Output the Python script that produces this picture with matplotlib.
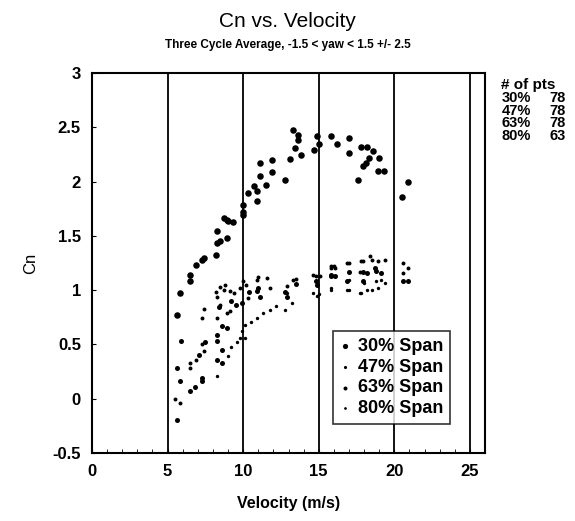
import matplotlib
matplotlib.use("Agg")
import matplotlib.pyplot as plt
from matplotlib.ticker import MultipleLocator

plt.rcParams['font.family'] = ['Liberation Sans', 'DejaVu Sans']

# 30% span
x30 = [5.6, 5.8, 6.5, 6.5, 6.9, 7.3, 7.4, 8.2, 8.3, 8.3, 8.5, 8.7, 8.9, 8.9, 9.3, 9.0,
       10.0, 10.0, 10.0, 10.3, 10.7, 10.9, 10.9, 11.1, 11.1, 11.5, 11.9, 11.9, 12.8, 13.1,
       13.3, 13.6, 13.6, 13.4, 13.8, 14.7, 14.9, 15.0, 15.8, 16.2, 17.0, 17.0, 17.8, 18.2,
       18.6, 18.3, 17.9, 18.1, 19.0, 18.9, 19.3, 17.6, 20.9, 20.5]
y30 = [0.77, 0.97, 1.08, 1.14, 1.23, 1.28, 1.30, 1.32, 1.43, 1.54, 1.45, 1.66, 1.65, 1.48, 1.63, 1.64,
       1.78, 1.69, 1.72, 1.89, 1.96, 1.91, 1.82, 2.17, 2.05, 1.97, 2.20, 2.09, 2.01, 2.21,
       2.47, 2.43, 2.38, 2.31, 2.24, 2.29, 2.42, 2.35, 2.42, 2.35, 2.40, 2.26, 2.32, 2.32,
       2.28, 2.22, 2.14, 2.17, 2.22, 2.10, 2.10, 2.01, 2.00, 1.86]

# 47% span
x47 = [5.5, 5.8, 6.5, 6.5, 6.9, 7.3, 7.4, 7.3, 7.4, 8.3, 8.3, 8.5, 8.7, 9.1, 9.1, 8.9,
       9.8, 10.0, 10.3, 10.9, 11.6, 11.8, 12.9, 13.3, 14.8, 15.1, 15.8, 16.1, 17.0, 17.8,
       18.5, 19.4, 20.6, 20.6, 8.2, 8.5, 8.8, 9.4, 10.2, 11.0, 13.5, 14.6, 15.8, 16.9,
       17.9, 18.4, 18.9, 20.9, 16.0, 17.7]
y47 = [0.00, -0.04, 0.28, 0.33, 0.36, 0.50, 0.44, 0.74, 0.83, 0.74, 0.94, 0.86, 1.00, 0.99, 0.81, 0.79,
       1.02, 1.08, 0.93, 1.09, 1.11, 1.02, 1.04, 1.09, 1.13, 1.13, 1.20, 1.20, 1.25, 1.27,
       1.28, 1.28, 1.25, 1.16, 0.98, 1.03, 1.05, 0.97, 1.05, 1.12, 1.10, 1.14, 1.22, 1.25,
       1.27, 1.31, 1.27, 1.20, 1.22, 1.17]

# 63% span
x63 = [5.6, 5.9, 5.8, 5.6, 6.5, 6.8, 7.3, 7.3, 8.3, 8.6, 8.3, 8.6, 8.3, 8.6, 8.9, 9.9,
       11.0, 11.1, 12.9, 13.5, 14.9, 15.8, 16.1, 17.0, 17.9, 18.2, 18.8, 20.9, 8.4, 9.2,
       9.5, 10.4, 10.9, 12.8, 14.8, 15.8, 16.9, 17.9, 18.7, 19.1, 20.6, 7.1, 7.5]
y63 = [0.28, 0.53, 0.16, -0.20, 0.07, 0.11, 0.16, 0.19, 0.36, 0.33, 0.53, 0.45, 0.59, 0.67, 0.65, 0.88,
       1.02, 0.94, 0.94, 1.06, 1.05, 1.13, 1.13, 1.17, 1.17, 1.16, 1.18, 1.08, 0.84, 0.90,
       0.86, 0.98, 0.99, 0.98, 1.08, 1.14, 1.08, 1.08, 1.20, 1.16, 1.08, 0.40, 0.52]

# 80% span
x80 = [8.3, 9.0, 9.2, 9.8, 9.9, 10.1, 10.1, 10.9, 11.3, 11.8, 12.8, 13.2, 12.9, 15.0,
       15.8, 17.0, 17.0, 17.8, 18.0, 18.2, 18.8, 19.1, 14.6, 14.9, 15.8, 16.9, 17.7,
       18.5, 18.9, 19.4, 9.6, 10.5, 12.2]
y80 = [0.21, 0.39, 0.48, 0.56, 0.62, 0.68, 0.56, 0.74, 0.79, 0.82, 0.82, 0.88, 0.97, 0.96,
       1.00, 1.00, 1.09, 0.97, 1.07, 1.00, 1.08, 1.09, 0.97, 0.95, 1.02, 1.00, 0.97,
       1.00, 1.02, 1.07, 0.52, 0.71, 0.85]

labels = ["30% Span", "47% Span", "63% Span", "80% Span"]
pct = ["30%", "47%", "63%", "80%"]
npts = [78, 78, 78, 63]
xticks = [0, 5, 10, 15, 20, 25]
yticks = [-0.5, 0, 0.5, 1, 1.5, 2, 2.5, 3]

fig = plt.figure(figsize=(5.75, 5.21), dpi=100)
ax = fig.add_axes([0.160, 0.1305, 0.6835, 0.7295])

for xv in [5, 10, 15, 20, 25]:
    ax.axvline(xv, color='black', lw=1.3, zorder=1)

ax.scatter(x30, y30, s=22, color='black', label=labels[0], zorder=3, linewidths=0)
ax.scatter(x47, y47, s=8, color='black', label=labels[1], zorder=3, linewidths=0)
ax.scatter(x63, y63, s=13, color='black', label=labels[2], zorder=3, linewidths=0)
ax.scatter(x80, y80, s=6, color='black', label=labels[3], zorder=3, linewidths=0)

ax.set_xlim(0, 26)
ax.set_ylim(-0.5, 3)
ax.set_xticks(xticks)
ax.set_yticks(yticks)
ax.set_yticklabels([f"{t:g}" for t in yticks])
ax.xaxis.set_minor_locator(MultipleLocator(1))
ax.tick_params(axis='both', which='major', direction='in', length=3, labelsize=12, pad=8)
ax.tick_params(axis='x', which='minor', direction='in', length=3)
for lab in ax.get_xticklabels() + ax.get_yticklabels():
    lab.set_fontweight('bold')
for sp in ax.spines.values():
    sp.set_linewidth(1.5)

ax.set_xlabel("Velocity (m/s)", fontsize=11.5, fontweight='bold', labelpad=12)
ax.set_ylabel("Cn", fontsize=12, labelpad=10)

fig.text(0.5, 0.958, "Cn vs. Velocity", ha='center', va='center', fontsize=15)
fig.text(0.5, 0.913, "Three Cycle Average, -1.5 < yaw < 1.5 +/- 2.5", ha='center', va='center',
         fontsize=8.5, fontweight='bold')

fig.text(0.872, 0.837, "# of pts", ha='left', va='center', fontsize=11, fontweight='bold')
for i, (p, n) in enumerate(zip(pct, npts)):
    yy = 0.812 - i * 0.0245
    fig.text(0.872, yy, p, ha='left', va='center', fontsize=10.5, fontweight='bold')
    fig.text(0.955, yy, str(n), ha='left', va='center', fontsize=10.5, fontweight='bold')

leg = ax.legend(loc='lower right', bbox_to_anchor=(0.935, 0.052), frameon=True, fancybox=False,
                edgecolor='black', handlelength=0.6, handletextpad=0.4, borderpad=0.4,
                labelspacing=0.2, markerscale=0.8, prop={'weight': 'bold', 'size': 13})
leg.get_frame().set_linewidth(1.2)
leg.set_zorder(5)

fig.savefig("out.png", dpi=100, facecolor='white')
